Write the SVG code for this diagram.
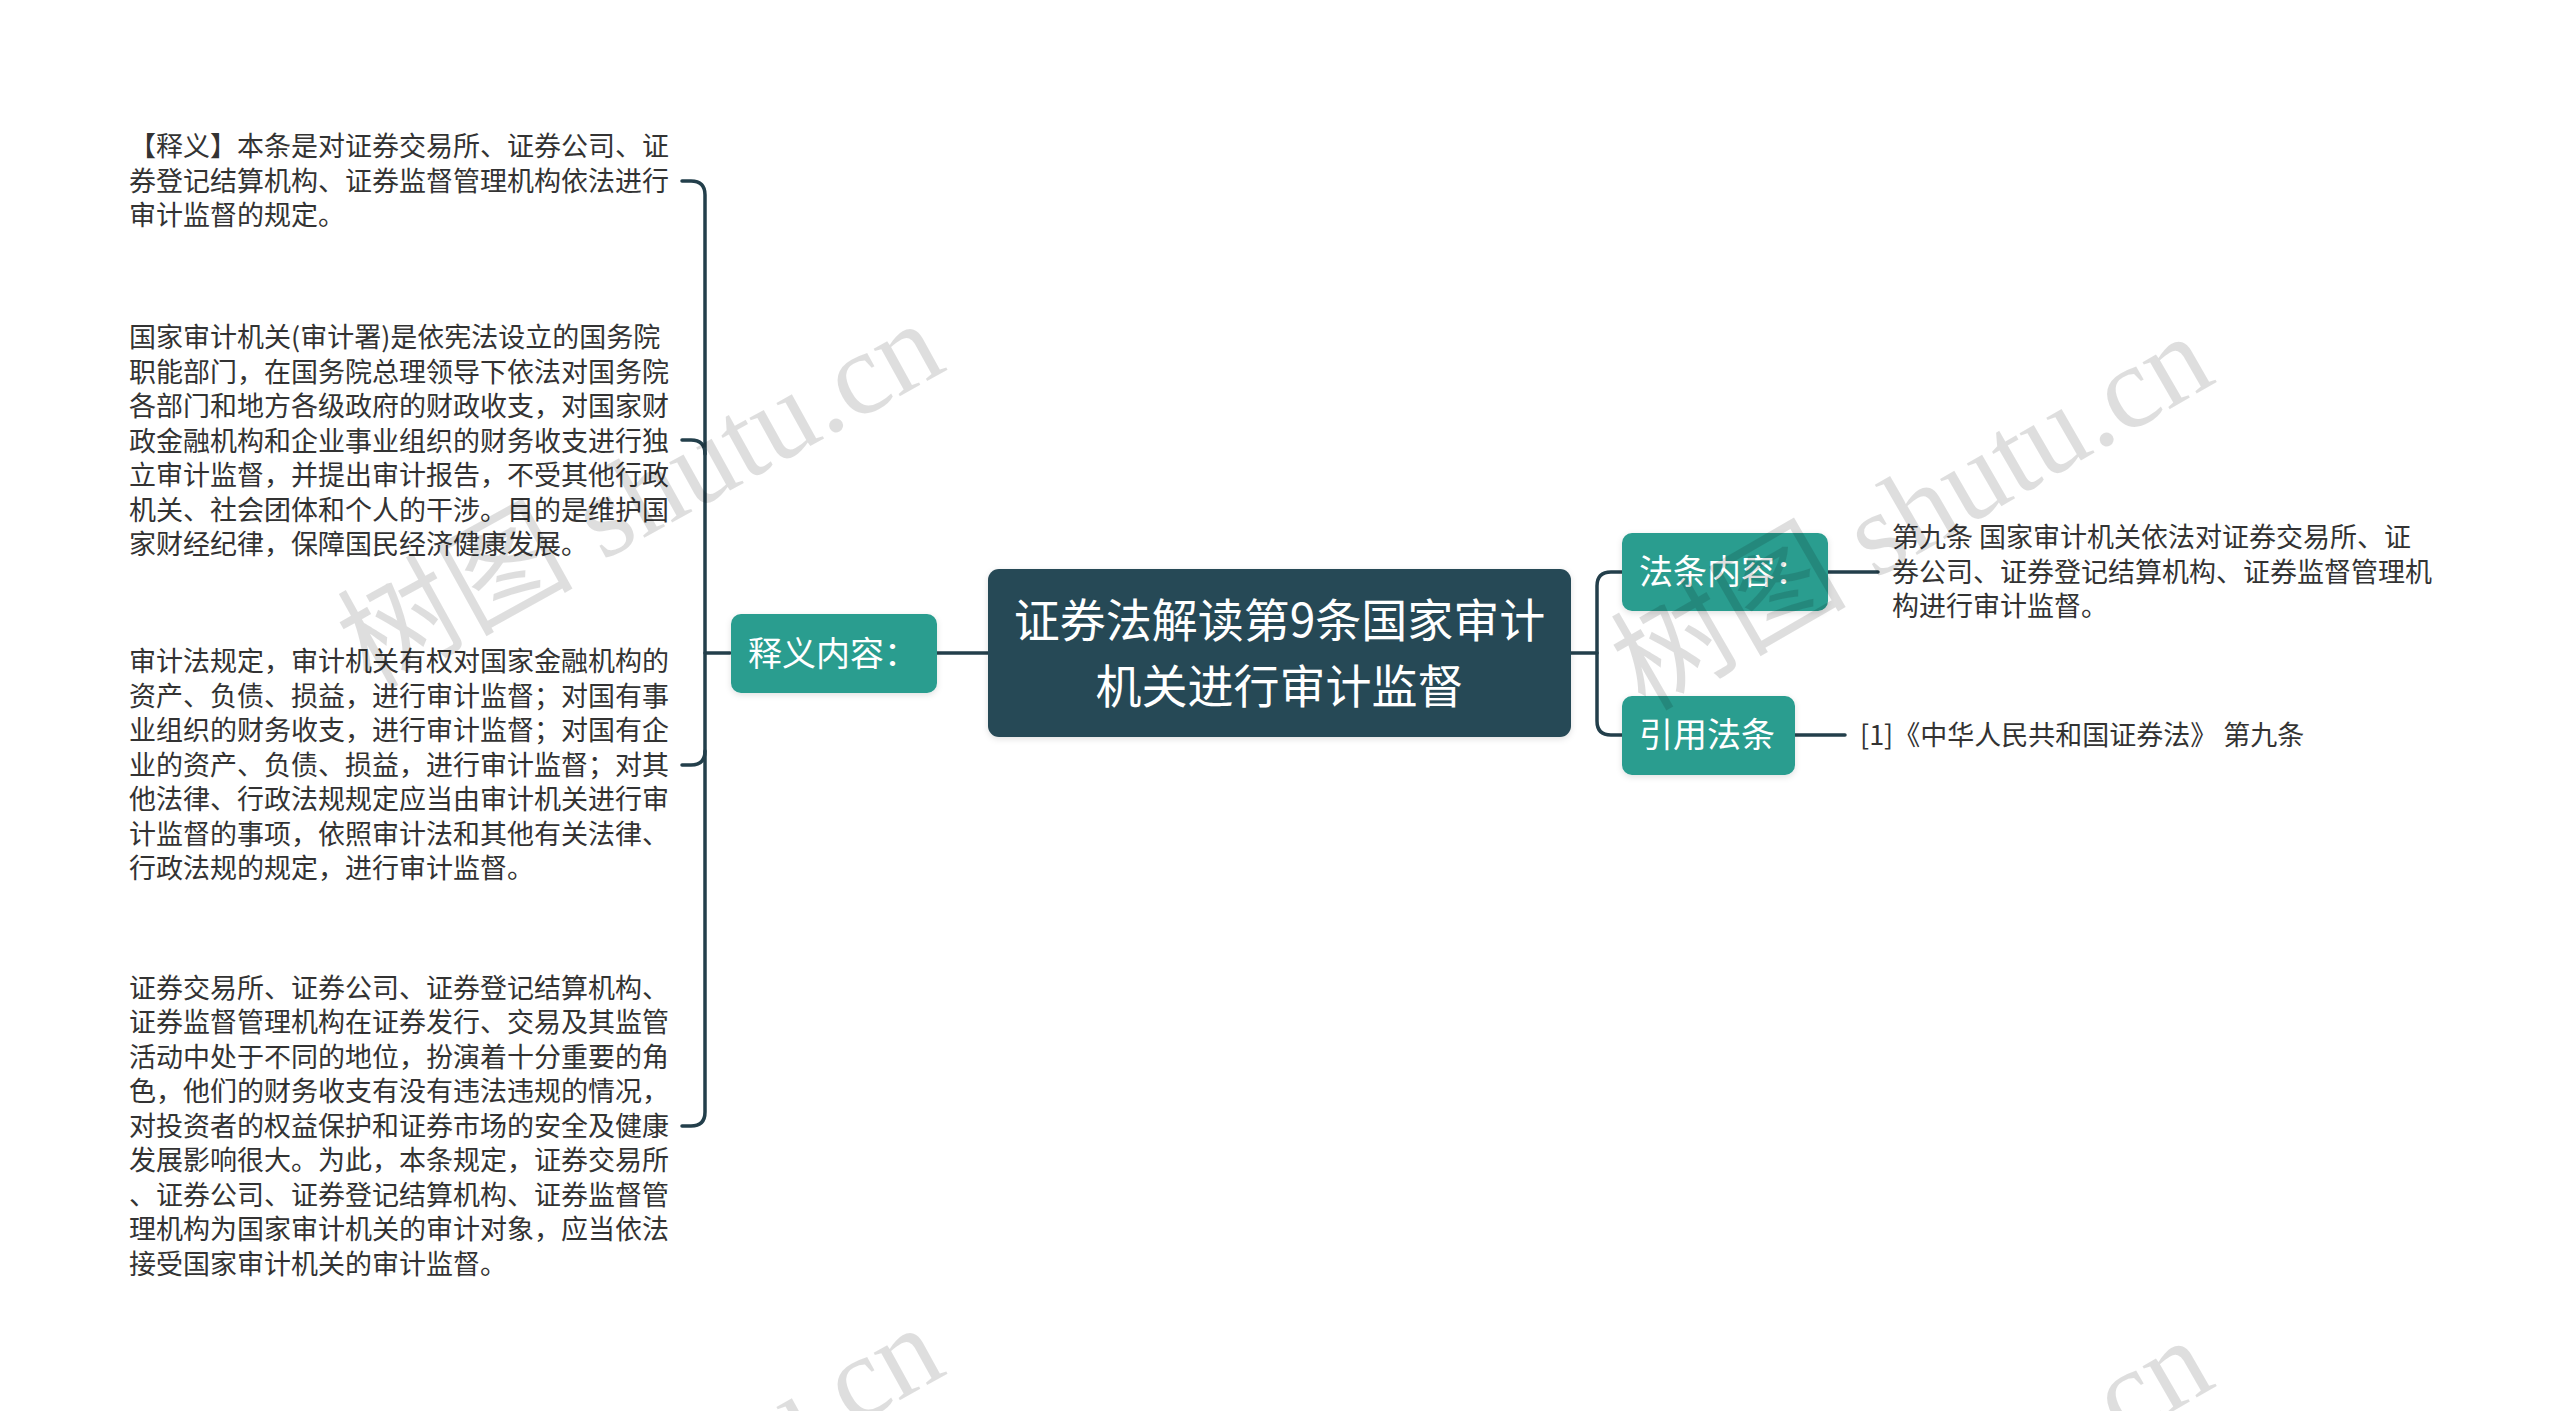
<svg xmlns="http://www.w3.org/2000/svg" width="2560" height="1411" viewBox="0 0 2560 1411">
<defs>
<style>
.t{font-family:"Noto Sans CJK SC","Noto Sans",sans-serif;font-size:27px;fill:#333333}
.lbl{font-family:"Noto Sans CJK SC","Noto Sans",sans-serif;font-size:34px;fill:#ffffff}
.title{font-family:"Noto Sans CJK SC","Noto Sans",sans-serif;font-size:46px;fill:#ffffff;text-anchor:middle}
.sub{fill:#2a9d8f}
.root{fill:#284a57}
.c{fill:none;stroke:#233f4b;stroke-width:3.5;stroke-linecap:round;stroke-linejoin:round}
.wm{font-family:"Liberation Serif","Noto Sans CJK SC",serif;font-size:118px;fill:#000000;fill-opacity:0.13}
</style>
<filter id="sh" x="-10%" y="-20%" width="120%" height="140%">
<feDropShadow dx="0" dy="2" stdDeviation="3" flood-color="#000" flood-opacity="0.12"/>
</filter>
</defs>
<rect width="2560" height="1411" fill="#ffffff"/>

<g id="connectors">
<path class="c" d="M937 653 H988"/>
<path class="c" d="M730 653 H705"/>
<path class="c" d="M682 181 H691 Q705 181 705 195 V1112 Q705 1126 691 1126 H682"/>
<path class="c" d="M682 440 H691 Q705 440 705 454"/>
<path class="c" d="M682 765 H691 Q705 765 705 751"/>
<path class="c" d="M1571 653 H1597"/>
<path class="c" d="M1622 572 H1611 Q1597 572 1597 586 V721 Q1597 735 1611 735 H1622"/>
<path class="c" d="M1828 572 H1878"/>
<path class="c" d="M1795 735 H1845"/>
</g>

<g id="root">
<rect class="root" x="988" y="569" width="583" height="168" rx="11" filter="url(#sh)"/>
<text class="title" x="1279.5" y="637">证券法解读第9条国家审计</text>
<text class="title" x="1279.5" y="703">机关进行审计监督</text>
</g>

<g id="n-shiyi">
<rect class="sub" x="731" y="614" width="206" height="79" rx="10" filter="url(#sh)"/>
<text class="lbl" x="748" y="666">释义内容：</text>
</g>

<g id="n-fatiao">
<rect class="sub" x="1622" y="533" width="206" height="78" rx="10" filter="url(#sh)"/>
<text class="lbl" x="1639" y="584">法条内容：</text>
</g>

<g id="n-yinyong">
<rect class="sub" x="1622" y="696" width="173" height="79" rx="10" filter="url(#sh)"/>
<text class="lbl" x="1639" y="747">引用法条</text>
</g>

<g id="t-1">
<text class="t" x="129" y="156">【释义】本条是对证券交易所、证券公司、证</text>
<text class="t" x="129" y="191">券登记结算机构、证券监督管理机构依法进行</text>
<text class="t" x="129" y="225">审计监督的规定。</text>
</g>

<g id="t-2">
<text class="t" x="129" y="347">国家审计机关(审计署)是依宪法设立的国务院</text>
<text class="t" x="129" y="382">职能部门，在国务院总理领导下依法对国务院</text>
<text class="t" x="129" y="416">各部门和地方各级政府的财政收支，对国家财</text>
<text class="t" x="129" y="451">政金融机构和企业事业组织的财务收支进行独</text>
<text class="t" x="129" y="485">立审计监督，并提出审计报告，不受其他行政</text>
<text class="t" x="129" y="520">机关、社会团体和个人的干涉。目的是维护国</text>
<text class="t" x="129" y="554">家财经纪律，保障国民经济健康发展。</text>
</g>

<g id="t-3">
<text class="t" x="129" y="671">审计法规定，审计机关有权对国家金融机构的</text>
<text class="t" x="129" y="706">资产、负债、损益，进行审计监督；对国有事</text>
<text class="t" x="129" y="740">业组织的财务收支，进行审计监督；对国有企</text>
<text class="t" x="129" y="775">业的资产、负债、损益，进行审计监督；对其</text>
<text class="t" x="129" y="809">他法律、行政法规规定应当由审计机关进行审</text>
<text class="t" x="129" y="844">计监督的事项，依照审计法和其他有关法律、</text>
<text class="t" x="129" y="878">行政法规的规定，进行审计监督。</text>
</g>

<g id="t-4">
<text class="t" x="129" y="998">证券交易所、证券公司、证券登记结算机构、</text>
<text class="t" x="129" y="1032">证券监督管理机构在证券发行、交易及其监管</text>
<text class="t" x="129" y="1067">活动中处于不同的地位，扮演着十分重要的角</text>
<text class="t" x="129" y="1101">色，他们的财务收支有没有违法违规的情况，</text>
<text class="t" x="129" y="1136">对投资者的权益保护和证券市场的安全及健康</text>
<text class="t" x="129" y="1170">发展影响很大。为此，本条规定，证券交易所</text>
<text class="t" x="129" y="1205">、证券公司、证券登记结算机构、证券监督管</text>
<text class="t" x="129" y="1239">理机构为国家审计机关的审计对象，应当依法</text>
<text class="t" x="129" y="1274">接受国家审计机关的审计监督。</text>
</g>

<g id="t-fatiao">
<text class="t" x="1892" y="547">第九条 国家审计机关依法对证券交易所、证</text>
<text class="t" x="1892" y="582">券公司、证券登记结算机构、证券监督管理机</text>
<text class="t" x="1892" y="616">构进行审计监督。</text>
</g>

<g id="t-yinyong">
<text class="t" x="1860" y="745">[1]《中华人民共和国证券法》 第九条</text>
</g>

<g id="watermark">
<text class="wm" transform="translate(370 690) rotate(-29)">树图 shutu.cn</text>
<text class="wm" transform="translate(1645 712) rotate(-30)">树图 shutu.cn</text>
<text class="wm" transform="translate(370 1694) rotate(-29)">树图 shutu.cn</text>
<text class="wm" transform="translate(1645 1716) rotate(-30)">树图 shutu.cn</text>
</g>
</svg>
